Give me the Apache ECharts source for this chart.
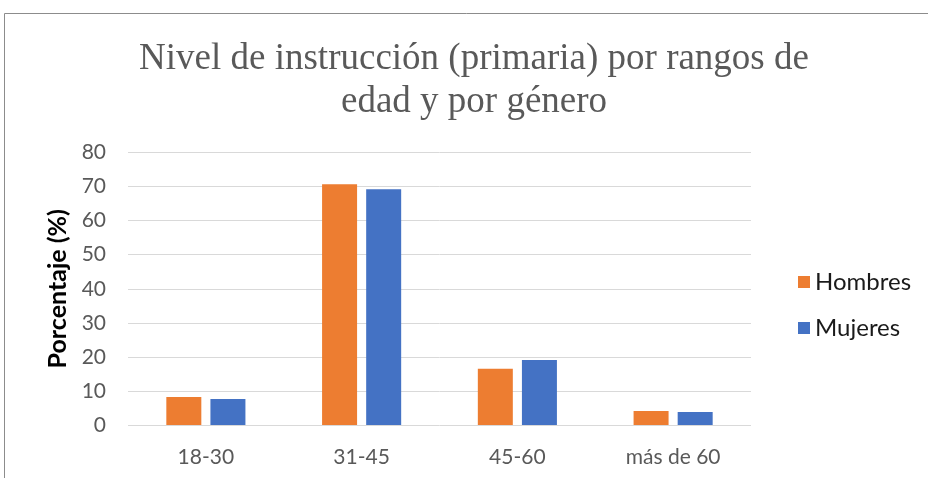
<!DOCTYPE html>
<html>
<head>
<meta charset="utf-8">
<script src="https://cdn.jsdelivr.net/npm/echarts@6/dist/echarts.min.js"></script>
<style>html,body{margin:0;padding:0;background:#fff}#c{width:928px;height:478px}</style>
</head>
<body>
<div id="c"></div>
<script>
const categories = ['18-30', '31-45', '45-60', 'más de 60'];
const hombres = [8.2, 70.7, 16.5, 4.1];
const mujeres = [7.6, 69.2, 19.1, 3.8];
const yTicks = [0, 10, 20, 30, 40, 50, 60, 70, 80];
const seriesNames = ['Hombres', 'Mujeres'];
const titleText = 'Nivel de instrucción (primaria) por rangos de\nedad y por género';
const yName = 'Porcentaje (%)';

const font = 'Lato';
const chart = echarts.init(document.getElementById('c'), null, {renderer: 'canvas'});
chart.setOption({
  animation: false,
  backgroundColor: '#fff',
  graphic: [{
    type: 'rect', silent: true,
    shape: {x: 4.5, y: 13.5, width: 1200, height: 1000},
    style: {fill: 'none', stroke: '#8c8c8c', lineWidth: 1}
  }],
  title: {
    text: titleText,
    left: 474,
    top: 38,
    padding: 0,
    textAlign: 'center',
    textStyle: {fontFamily: 'Liberation Serif', fontSize: 37, fontWeight: 'normal', color: '#595959', lineHeight: 43, align: 'center'}
  },
  legend: {
    orient: 'vertical',
    left: 793, top: 264,
    itemWidth: 12, itemHeight: 12,
    itemGap: 20,
    icon: 'rect',
    data: seriesNames,
    textStyle: {fontFamily: font, fontSize: 24, color: '#1a1a1a', lineHeight: 26, padding: [0, 0, 0, 0]}
  },
  grid: {left: 128, right: 177, top: 152.5, bottom: 53, containLabel: false},
  xAxis: {type: 'category', data: categories,
     axisLine: {show: false}, axisTick: {show: false},
     axisLabel: {fontFamily: font, fontSize: 21, color: '#595959', margin: 22}},
  yAxis: {type: 'value', min: yTicks[0], max: yTicks[yTicks.length - 1], interval: 10,
     name: yName, nameLocation: 'middle', nameGap: 53,
     nameTextStyle: {fontFamily: font, fontSize: 25, fontWeight: 'bold', color: '#000'},
     axisLine: {show: false}, axisTick: {show: false},
     axisLabel: {fontFamily: font, fontSize: 21, color: '#595959', margin: 22},
     splitLine: {lineStyle: {color: '#d9d9d9', width: 1}}},
  series: [
    {name: seriesNames[0], type: 'bar', data: hombres,
     barWidth: 35, barGap: '26%', itemStyle: {color: '#ED7D31'}},
    {name: seriesNames[1], type: 'bar', data: mujeres,
     barWidth: 35, barGap: '26%', itemStyle: {color: '#4472C4'}}
  ]
});
</script>
</body>
</html>
